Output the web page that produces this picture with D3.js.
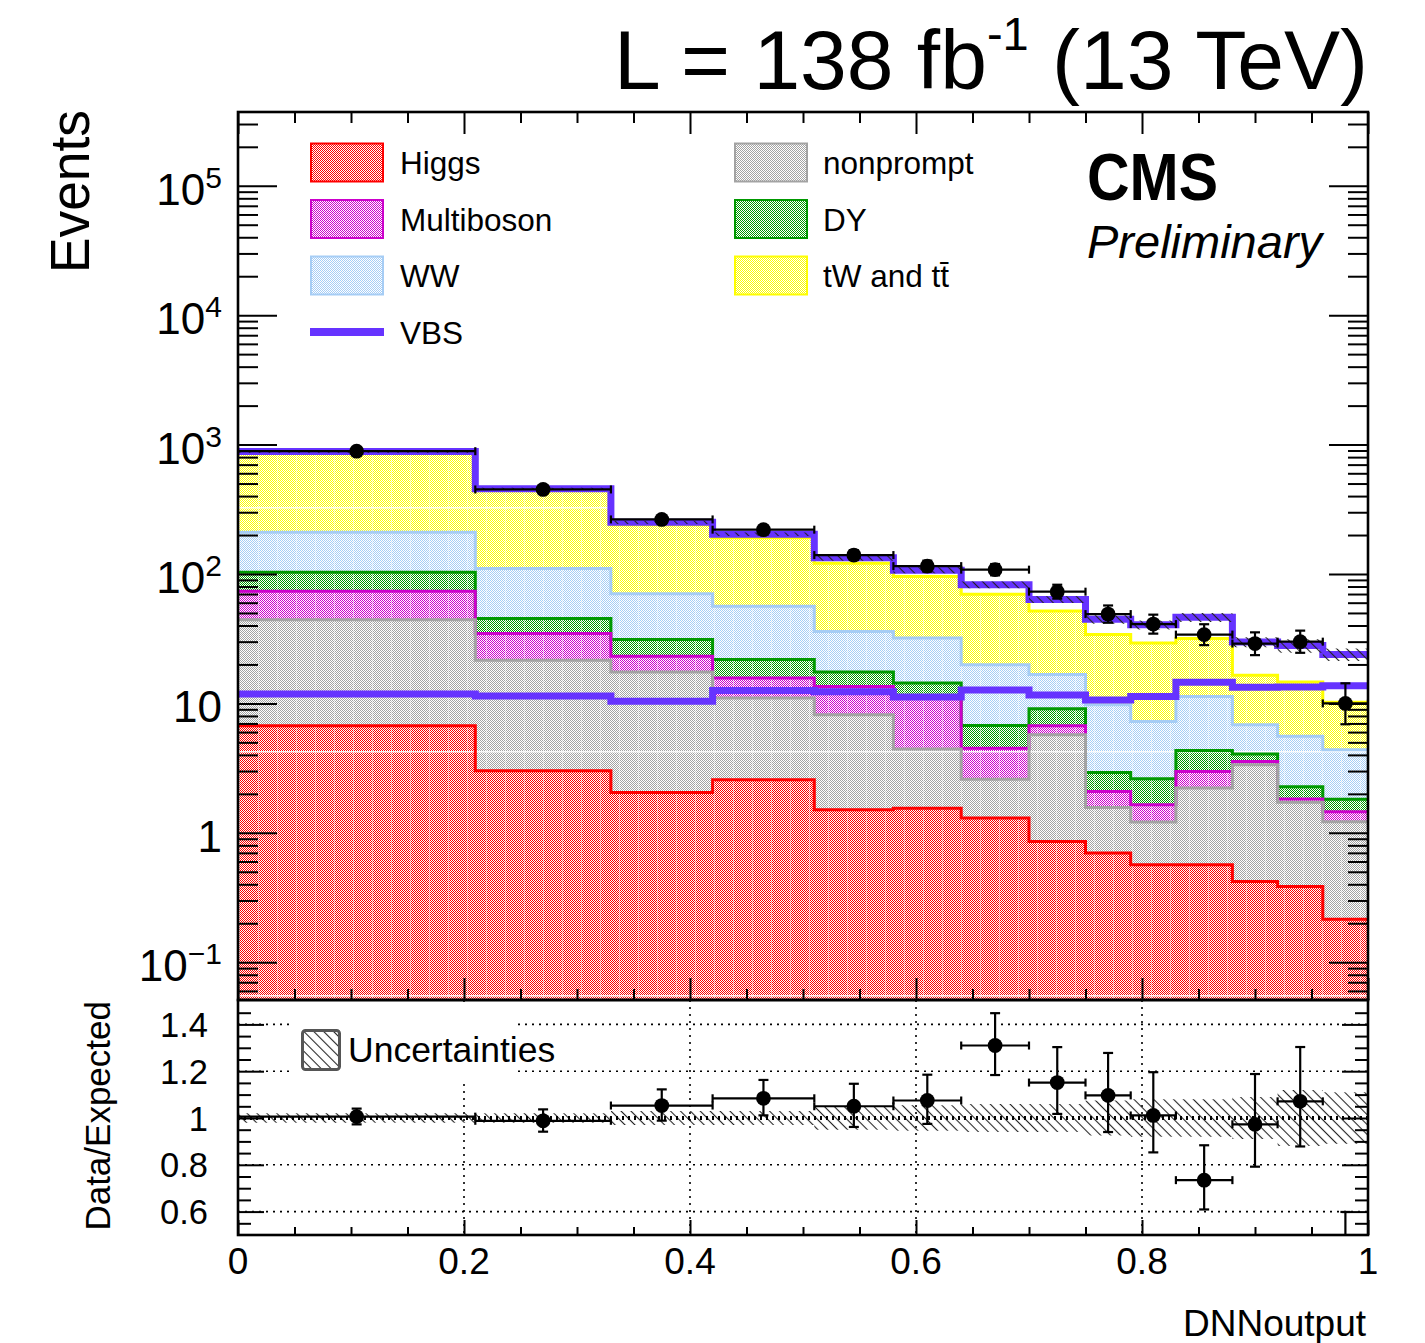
<!DOCTYPE html>
<html>
<head>
<meta charset="utf-8">
<script src="https://cdn.jsdelivr.net/npm/d3@7"></script>
<style>
  html, body { margin: 0; padding: 0; background: #fff; }
  svg { display: block; font-family: "Liberation Sans", Arial, Helvetica, sans-serif; }
</style>
</head>
<body>
<svg id="chart" width="1425" height="1343"></svg>
<script>
// ---- binning of the DNN output ----
const binEdges = [0, 0.21, 0.33, 0.42, 0.51, 0.58, 0.64, 0.70, 0.75, 0.79, 0.83, 0.88, 0.92, 0.96, 1.0];

// ---- expected yields per process (events per bin) ----
const higgs      = [6.72, 3.02, 2.05, 2.57, 1.51, 1.55, 1.30, 0.857, 0.697, 0.566, 0.566, 0.42, 0.385, 0.215];
const nonprompt  = [37.5, 18.5, 15.4, 8.43, 6.67, 2.89, 1.29, 4.87, 0.873, 0.644, 1.65, 2.94, 1.34, 1.0];
const multiboson = [29.3, 13.1, 5.7, 4.7, 5.32, 6.56, 1.91, 0.99, 0.52, 0.44, 0.76, 0.20, 0.10, 0.24];
const drellYan   = [29.5, 10.6, 8.0, 6.1, 4.0, 3.4, 2.26, 2.38, 0.84, 0.97, 1.35, 0.50, 0.44, 0.36];
const ww         = [107, 64.8, 39.1, 34.5, 18.5, 17.6, 13.1, 7.6, 6.85, 4.64, 6.97, 2.78, 3.30, 2.56];
const topQuark   = [662, 334, 170, 134, 85, 63.8, 49.9, 35.1, 24.3, 22.0, 20.4, 9.66, 9.04, 5.82];
const vbs        = [11.8, 11.4, 10.4, 12.6, 12.3, 11.2, 12.7, 11.6, 10.6, 11.3, 14.6, 13.3, 13.4, 13.7];

// relative uncertainty on the total expectation
const relUnc = [0.02, 0.02, 0.03, 0.03, 0.05, 0.055, 0.06, 0.06, 0.075, 0.08, 0.08, 0.09, 0.12, 0.11];

// ---- observed data ----
const dataCounts  = [889, 450, 264, 220, 140, 115, 108, 73, 49, 41, 34, 29, 30, 10];
const dataErrUp   = [30.3, 22.2, 17.3, 15.9, 12.8, 11.8, 11.4, 9.6, 8.1, 7.5, 6.9, 6.4, 6.5, 4.3];
const dataErrDown = [29.3, 21.2, 16.2, 14.8, 11.8, 10.7, 10.4, 8.5, 7.0, 6.4, 5.8, 5.4, 5.4, 3.1];

// ---- axis ticks and labels ----
const xTickValues = [0, 0.2, 0.4, 0.6, 0.8, 1.0];
const xTickLabels = ["0", "0.2", "0.4", "0.6", "0.8", "1"];
const yTickValues = [0.1, 1, 10, 100, 1000, 1e4, 1e5];
const yTickBase   = ["10", "1", "10", "10", "10", "10", "10"];
const yTickExp    = ["\u22121", "", "", "2", "3", "4", "5"];
const ratioTickValues = [0.6, 0.8, 1.0, 1.2, 1.4];
const ratioTickLabels = ["0.6", "0.8", "1", "1.2", "1.4"];

// ---- process names / colours (stack order bottom -> top) ----
const processKeys   = ["Higgs", "nonprompt", "Multiboson", "DY", "WW", "tW and tt\u0304"];
const processColors = ["#ff0000", "#a3a3a3", "#cc00cc", "#009900", "#a6cdf5", "#ffff00"];
const processValues = [higgs, nonprompt, multiboson, drellYan, ww, topQuark];
const vbsColor = "#6633ff";

// ---------------------------------------------------------------
const svg = d3.select("#chart");
const nBins = binEdges.length - 1;

const L = 238, R = 1368, T = 112, B = 1000;        // main pad frame
const RT = 1000, RB = 1235;                          // ratio pad frame

const x = d3.scaleLinear().domain([0, 1]).range([L, R]);
const y = d3.scaleLog().domain([Math.pow(10, -1.292), Math.pow(10, 5.570)]).range([B, T]);
const r = d3.scaleLinear().domain([0.5, 1.5]).range([RB, RT + 1]);

const defs = svg.append("defs");
defs.append("clipPath").attr("id", "clipMain")
  .append("rect").attr("x", L).attr("y", T).attr("width", R - L).attr("height", B - T);
defs.append("clipPath").attr("id", "clipRatio")
  .append("rect").attr("x", L).attr("y", RT).attr("width", R - L).attr("height", RB - RT);

// fine checkerboard fill for each process
function checker(id, color) {
  const p = defs.append("pattern").attr("id", id)
    .attr("patternUnits", "userSpaceOnUse").attr("width", 2).attr("height", 2);
  p.append("path").attr("d", "M0,0H2V2H0Z").attr("fill", "#fff").attr("shape-rendering", "crispEdges");
  p.append("path").attr("d", "M0,0H1V1H0Z M1,1H2V2H1Z").attr("fill", color)
    .attr("shape-rendering", "crispEdges");
}
processColors.forEach((c, i) => checker("fill" + i, c));

// diagonal hatch for the uncertainty band
const hatch = defs.append("pattern").attr("id", "hatch")
  .attr("patternUnits", "userSpaceOnUse").attr("width", 7).attr("height", 7)
  .attr("patternTransform", "rotate(-45)");
hatch.append("line").attr("x1", 3.5).attr("y1", -1).attr("x2", 3.5).attr("y2", 8)
  .attr("stroke", "#222").attr("stroke-width", 1.1);

// light texture seams in the filled area
const seams = defs.append("pattern").attr("id", "seams")
  .attr("patternUnits", "userSpaceOnUse").attr("x", 258).attr("y", 507)
  .attr("width", 19).attr("height", 244);
seams.append("rect").attr("x", 0).attr("y", 0).attr("width", 1).attr("height", 244)
  .attr("fill", "#fff").attr("opacity", 0.4);
seams.append("rect").attr("x", 0).attr("y", 0).attr("width", 19).attr("height", 1.5)
  .attr("fill", "#fff").attr("opacity", 0.85);

// ---- stack the processes ----
const rows = d3.range(nBins).map(i => {
  const o = {};
  processKeys.forEach((k, j) => { o[k] = processValues[j][i]; });
  return o;
});
const stacked = d3.stack().keys(processKeys)(rows);
const bkgTotal = d3.range(nBins).map(i => stacked[stacked.length - 1][i][1]);
const total = bkgTotal.map((v, i) => v + vbs[i]);

// points for a step curve (one extra point closes the last bin)
function stepPoints(getter) {
  return binEdges.map((e, i) => Object.assign({ x: e }, getter(Math.min(i, nBins - 1))));
}
const yClamp = v => (v > 0 ? y(v) : B + 10);

const stepArea = d3.area().curve(d3.curveStepAfter)
  .x(d => x(d.x)).y0(d => yClamp(d.lo)).y1(d => yClamp(d.hi));
const stepLine = d3.line().curve(d3.curveStepAfter)
  .x(d => x(d.x)).y(d => yClamp(d.v));

const main = svg.append("g").attr("clip-path", "url(#clipMain)");

// filled bands
stacked.forEach((layer, j) => {
  main.append("path")
    .attr("d", stepArea(stepPoints(i => ({ lo: layer[i][0], hi: layer[i][1] }))))
    .attr("fill", `url(#fill${j})`).attr("stroke", "none");
});
main.append("path")
  .attr("d", stepArea(stepPoints(i => ({ lo: 0, hi: bkgTotal[i] }))))
  .attr("fill", "url(#seams)");

// outlines, top of the stack first
for (let j = stacked.length - 1; j >= 0; j--) {
  main.append("path")
    .attr("d", stepLine(stepPoints(i => ({ v: stacked[j][i][1] }))))
    .attr("fill", "none").attr("stroke", processColors[j]).attr("stroke-width", 3);
}

// VBS: stacked on top of the background and on its own
main.append("path")
  .attr("d", stepLine(stepPoints(i => ({ v: total[i] }))))
  .attr("fill", "none").attr("stroke", vbsColor).attr("stroke-width", 7);
main.append("path")
  .attr("d", stepLine(stepPoints(i => ({ v: vbs[i] }))))
  .attr("fill", "none").attr("stroke", vbsColor).attr("stroke-width", 7);

// uncertainty band on the total
main.append("path")
  .attr("d", stepArea(stepPoints(i => ({ lo: total[i] * (1 - relUnc[i]), hi: total[i] * (1 + relUnc[i]) }))))
  .attr("fill", "url(#hatch)");

// data points with error bars
function drawPoints(g, vals, up, down, ys, rad) {
  const cap = 5, hcap = 4;
  vals.forEach((v, i) => {
    const cx = x((binEdges[i] + binEdges[i + 1]) / 2);
    const x0 = x(binEdges[i]), x1 = x(binEdges[i + 1]);
    const cy = ys(v);
    const yu = ys(v + up[i]), yd = ys(v - down[i]);
    const s = g.append("g").attr("stroke", "#000").attr("stroke-width", 2.2);
    s.append("line").attr("x1", x0).attr("x2", x1).attr("y1", cy).attr("y2", cy);
    s.append("line").attr("x1", x0).attr("x2", x0).attr("y1", cy - hcap).attr("y2", cy + hcap);
    s.append("line").attr("x1", x1).attr("x2", x1).attr("y1", cy - hcap).attr("y2", cy + hcap);
    s.append("line").attr("x1", cx).attr("x2", cx).attr("y1", yu).attr("y2", yd);
    s.append("line").attr("x1", cx - cap).attr("x2", cx + cap).attr("y1", yu).attr("y2", yu);
    s.append("line").attr("x1", cx - cap).attr("x2", cx + cap).attr("y1", yd).attr("y2", yd);
    g.append("circle").attr("cx", cx).attr("cy", cy).attr("r", rad).attr("fill", "#000");
  });
}
drawPoints(main, dataCounts, dataErrUp, dataErrDown, v => y(Math.max(v, 1e-3)), 7.4);

// ---- ratio pad ----
const ratio = svg.append("g");
const ratioVals = dataCounts.map((d, i) => d / total[i]);
const ratioUp   = dataErrUp.map((e, i) => e / total[i]);
const ratioDown = dataErrDown.map((e, i) => e / total[i]);

const grid = ratio.append("g").attr("stroke", "#000").attr("stroke-width", 1.6)
  .attr("stroke-dasharray", "2,5");
[0.6, 0.8, 1.2, 1.4].forEach(v => {
  grid.append("line").attr("x1", L).attr("x2", R).attr("y1", r(v)).attr("y2", r(v));
});
[0.2, 0.4, 0.6, 0.8].forEach(v => {
  grid.append("line").attr("x1", x(v)).attr("x2", x(v)).attr("y1", RT).attr("y2", RB);
});

// legend box of the ratio pad sits over the grid
ratio.append("rect").attr("x", 293).attr("y", 1004).attr("width", 220).attr("height", 80).attr("fill", "#fff");
ratio.append("rect").attr("x", 302.5).attr("y", 1030.5).attr("width", 37).attr("height", 39)
  .attr("rx", 3).attr("fill", "url(#hatch)").attr("stroke", "#555").attr("stroke-width", 3);
ratio.append("text").attr("x", 348).attr("y", 1062).attr("font-size", 35.5).attr("fill", "#000")
  .text("Uncertainties");

const ratioClip = ratio.append("g").attr("clip-path", "url(#clipRatio)");
ratioClip.append("path")
  .attr("d", d3.area().curve(d3.curveStepAfter)
    .x(d => x(d.x)).y0(d => r(1 - d.u)).y1(d => r(1 + d.u))(stepPoints(i => ({ u: relUnc[i] }))))
  .attr("fill", "url(#hatch)");
ratioClip.append("line").attr("x1", L).attr("x2", R).attr("y1", r(1)).attr("y2", r(1))
  .attr("stroke", "#000").attr("stroke-width", 4).attr("stroke-dasharray", "2,4");
drawPoints(ratioClip, ratioVals, ratioUp, ratioDown, r, 7.4);

// ---- axes ----
const tickStyle = g => {
  g.select(".domain").remove();
  g.selectAll(".tick line").attr("stroke", "#000").attr("stroke-width", 2);
  g.selectAll(".tick text").remove();
};
const xMinor = d3.range(0, 1.0001, 0.05).map(v => +v.toFixed(2)).filter(v => !xTickValues.includes(v));
const yMinor = [];
for (let k = -2; k <= 5; k++) for (let m = 2; m <= 9; m++) {
  const v = m * Math.pow(10, k);
  if (v > y.domain()[0] && v < y.domain()[1]) yMinor.push(v);
}
const rMinor = d3.range(0.5, 1.5001, 0.05).map(v => +v.toFixed(2))
  .filter(v => !ratioTickValues.includes(v) && v > 0.5 && v < 1.5);

const axes = svg.append("g");
function addAxis(gen, tf, values, size) {
  axes.append("g").attr("transform", tf)
    .call(gen.tickValues(values).tickSize(size).tickFormat(""))
    .call(tickStyle);
}
// main pad
addAxis(d3.axisLeft(y), `translate(${L},0)`, yTickValues, -39);
addAxis(d3.axisLeft(y), `translate(${L},0)`, yMinor, -20);
addAxis(d3.axisRight(y), `translate(${R},0)`, yTickValues, -39);
addAxis(d3.axisRight(y), `translate(${R},0)`, yMinor, -20);
addAxis(d3.axisTop(x), `translate(0,${T})`, xTickValues, -22);
addAxis(d3.axisTop(x), `translate(0,${T})`, xMinor, -11);
addAxis(d3.axisBottom(x), `translate(0,${B})`, xTickValues, -22);
addAxis(d3.axisBottom(x), `translate(0,${B})`, xMinor, -11);
// ratio pad
addAxis(d3.axisLeft(r), `translate(${L},0)`, ratioTickValues, -26);
addAxis(d3.axisLeft(r), `translate(${L},0)`, rMinor, -13);
addAxis(d3.axisRight(r), `translate(${R},0)`, ratioTickValues, -26);
addAxis(d3.axisRight(r), `translate(${R},0)`, rMinor, -13);
addAxis(d3.axisBottom(x), `translate(0,${RB})`, xTickValues, -15);
addAxis(d3.axisBottom(x), `translate(0,${RB})`, xMinor, -8);

// frames
svg.append("rect").attr("x", L).attr("y", T).attr("width", R - L).attr("height", B - T)
  .attr("fill", "none").attr("stroke", "#000").attr("stroke-width", 2.6);
svg.append("rect").attr("x", L).attr("y", RT).attr("width", R - L).attr("height", RB - RT)
  .attr("fill", "none").attr("stroke", "#000").attr("stroke-width", 2.6);

// tick labels
const labels = svg.append("g").attr("fill", "#000");
yTickValues.forEach((v, i) => {
  const t = labels.append("text").attr("x", 222).attr("y", y(v) + 19)
    .attr("text-anchor", "end").attr("font-size", 44);
  t.append("tspan").text(yTickBase[i]);
  if (yTickExp[i]) t.append("tspan").attr("dy", -17).attr("font-size", 30).text(yTickExp[i]);
});
ratioTickValues.forEach((v, i) => {
  labels.append("text").attr("x", 208).attr("y", r(v) + 12.5)
    .attr("text-anchor", "end").attr("font-size", 34.5).text(ratioTickLabels[i]);
});
xTickValues.forEach((v, i) => {
  labels.append("text").attr("x", x(v)).attr("y", 1274)
    .attr("text-anchor", "middle").attr("font-size", 37).text(xTickLabels[i]);
});

// axis titles
labels.append("text").attr("transform", "translate(89,110) rotate(-90)")
  .attr("text-anchor", "end").attr("font-size", 56)
  .attr("textLength", 163).attr("lengthAdjust", "spacingAndGlyphs").text("Events");
labels.append("text").attr("transform", "translate(110,1001) rotate(-90)")
  .attr("text-anchor", "end").attr("font-size", 35).text("Data/Expected");
labels.append("text").attr("x", 1366).attr("y", 1336)
  .attr("text-anchor", "end").attr("font-size", 37).text("DNNoutput");

// header
const head = labels.append("text").attr("x", 1368).attr("y", 89)
  .attr("text-anchor", "end").attr("font-size", 84);
head.append("tspan").text("L = 138 fb");
head.append("tspan").attr("dy", -39).attr("font-size", 47).text("-1");
head.append("tspan").attr("dy", 39).text(" (13 TeV)");

labels.append("text").attr("x", 1087).attr("y", 200).attr("font-size", 66).attr("font-weight", "bold")
  .attr("textLength", 131).attr("lengthAdjust", "spacingAndGlyphs").text("CMS");
labels.append("text").attr("x", 1087).attr("y", 258).attr("font-size", 47).attr("font-style", "italic")
  .text("Preliminary");

// ---- legend ----
const legendRows = [162.5, 219, 275.5, 332];
const legendEntries = [
  { key: 0, col: 0, row: 0 },
  { key: 2, col: 0, row: 1 },
  { key: 4, col: 0, row: 2 },
  { key: "vbs", col: 0, row: 3 },
  { key: 1, col: 1, row: 0 },
  { key: 3, col: 1, row: 1 },
  { key: 5, col: 1, row: 2 },
];
const legendBoxX = [310, 734], legendTextX = [400, 823];
const leg = svg.append("g");
legendEntries.forEach(e => {
  const cy = legendRows[e.row];
  const bx = legendBoxX[e.col];
  if (e.key === "vbs") {
    leg.append("line").attr("x1", bx).attr("x2", bx + 74).attr("y1", cy).attr("y2", cy)
      .attr("stroke", vbsColor).attr("stroke-width", 8);
    leg.append("text").attr("x", legendTextX[e.col]).attr("y", cy + 11.5)
      .attr("font-size", 31.5).text("VBS");
  } else {
    leg.append("rect").attr("x", bx + 1).attr("y", cy - 19).attr("width", 72).attr("height", 38)
      .attr("fill", `url(#fill${e.key})`).attr("stroke", processColors[e.key]).attr("stroke-width", 2);
    leg.append("text").attr("x", legendTextX[e.col]).attr("y", cy + 11.5)
      .attr("font-size", 31.5).text(processKeys[e.key]);
  }
});
</script>
</body>
</html>
